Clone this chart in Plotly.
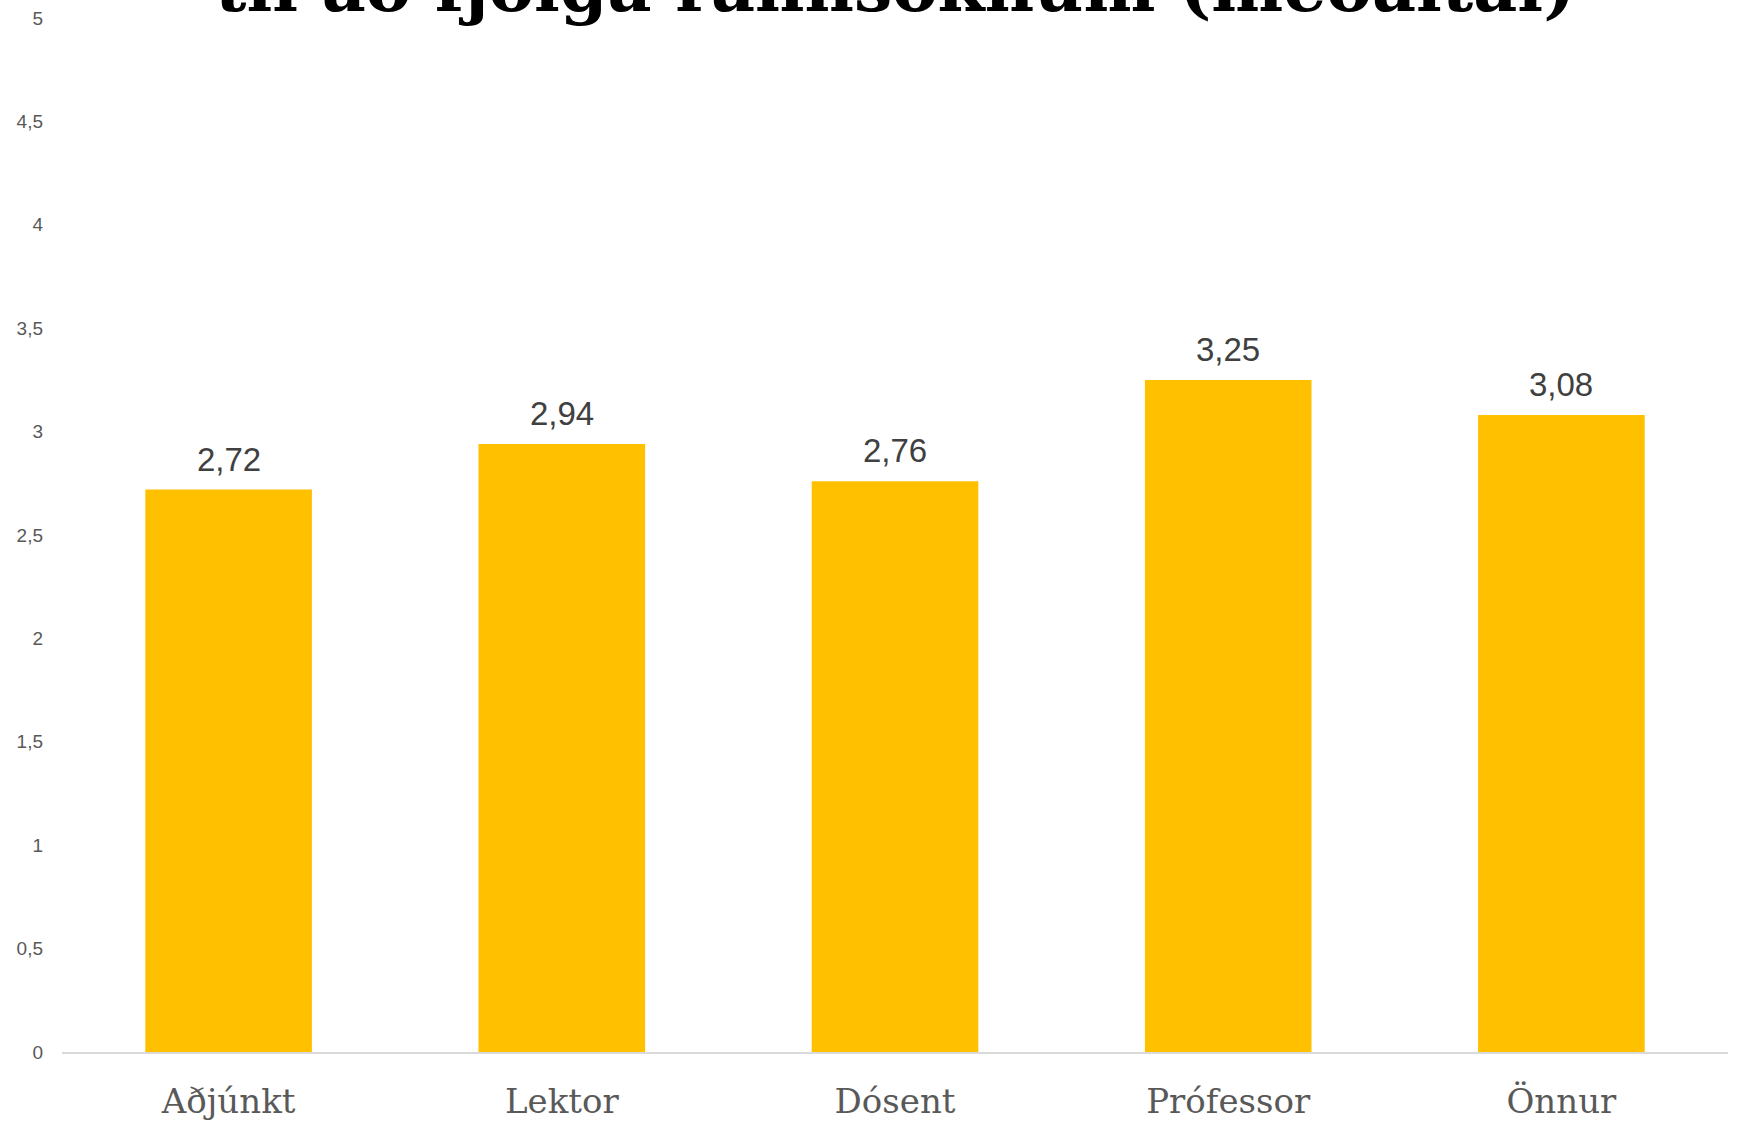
import plotly.graph_objects as go

categories = ["Aðjúnkt", "Lektor", "Dósent", "Prófessor", "Önnur"]
values = [2.72, 2.94, 2.76, 3.25, 3.08]
value_labels = ["2,72", "2,94", "2,76", "3,25", "3,08"]
y_tickvals = [0, 0.5, 1, 1.5, 2, 2.5, 3, 3.5, 4, 4.5, 5]
y_ticktext = ["0", "0,5", "1", "1,5", "2", "2,5", "3", "3,5", "4", "4,5", "5"]
title_text = "til að fjölga rannsóknum (meðaltal)"

fig = go.Figure()
fig.add_trace(go.Bar(
    x=categories, y=values,
    marker=dict(color="#FFC000", line=dict(width=0)),
    hoverinfo="skip",
))

for c, v, t in zip(categories, values, value_labels):
    fig.add_annotation(
        x=c, y=v, text=t, showarrow=False, yanchor="bottom", yshift=10,
        font=dict(family="Liberation Sans", size=33, color="#404040"),
    )

fig.add_annotation(
    x=0.5, xref="paper", y=(1052 - 29) / 1034, yref="paper",
    yanchor="bottom", xanchor="center", showarrow=False,
    text="<b>" + title_text + "</b>",
    font=dict(family="DejaVu Serif", size=68, color="#000000"),
)

fig.update_layout(
    width=1737, height=1122,
    margin=dict(l=62, r=9, t=18, b=70),
    paper_bgcolor="white", plot_bgcolor="white",
    bargap=0.5,
    showlegend=False,
    separators=",.",
)
fig.update_xaxes(
    showgrid=False, showline=True, linecolor="#D9D9D9", linewidth=2,
    ticks="", ticklabelstandoff=18, automargin=False,
    tickfont=dict(family="DejaVu Serif", size=34, color="#595959"),
)
fig.update_yaxes(
    range=[0, 5], showgrid=False, zeroline=False, showline=False,
    tickvals=y_tickvals, ticktext=y_ticktext, ticks="",
    ticklabelstandoff=18, automargin=False,
    tickfont=dict(family="Liberation Sans", size=19, color="#595959"),
)

fig.write_html("out.html", config={"displayModeBar": False},
               post_script="document.body.style.margin='0px';")
